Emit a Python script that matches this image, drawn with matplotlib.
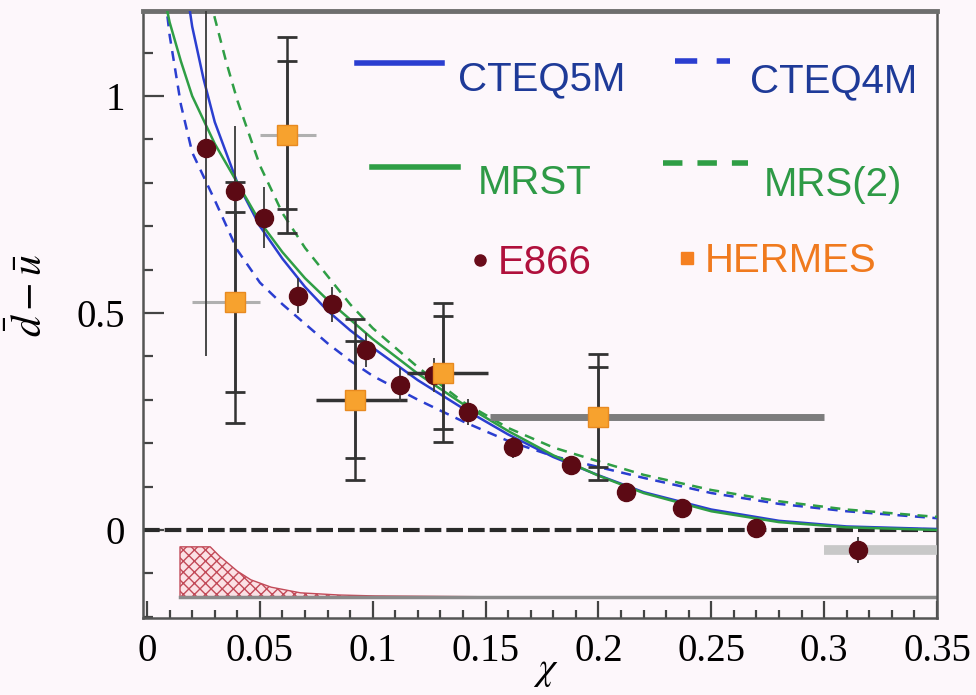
import matplotlib
matplotlib.use('Agg')
import matplotlib.pyplot as plt
from matplotlib.lines import Line2D
from matplotlib import font_manager
from matplotlib.ticker import MultipleLocator, FixedLocator

# E866 points, d-bar minus u-bar
e866_x = [0.026, 0.039, 0.052, 0.067, 0.082, 0.097, 0.112, 0.127, 0.142, 0.162, 0.188, 0.212, 0.237, 0.270, 0.315]
e866_y = [0.88, 0.78, 0.72, 0.54, 0.52, 0.415, 0.334, 0.357, 0.272, 0.19, 0.15, 0.087, 0.05, 0.005, -0.046]
e866_err = [0.48, 0.15, 0.07, 0.04, 0.04, 0.04, 0.04, 0.04, 0.03, 0.025, 0.02, 0.02, 0.02, 0.02, 0.03]

# HERMES points: stat / total errors and x bins
herm_x = [0.039, 0.062, 0.092, 0.131, 0.200]
herm_y = [0.525, 0.91, 0.30, 0.362, 0.26]
herm_stat = [0.207, 0.17, 0.135, 0.13, 0.115]
herm_tot = [0.278, 0.225, 0.185, 0.16, 0.145]
herm_xlo = [0.020, 0.050, 0.075, 0.115, 0.152]
herm_xhi = [0.050, 0.075, 0.115, 0.151, 0.300]

# parametrisations
cteq5_x = [0.018, 0.02, 0.025, 0.03, 0.04, 0.05, 0.06, 0.07, 0.08, 0.09, 0.10, 0.12, 0.14, 0.16, 0.18, 0.20, 0.22, 0.25, 0.28, 0.31, 0.35]
cteq5_y = [1.23, 1.16, 1.04, 0.94, 0.80, 0.70, 0.625, 0.56, 0.505, 0.46, 0.42, 0.345, 0.28, 0.22, 0.168, 0.126, 0.087, 0.047, 0.021, 0.008, 0.002]

cteq4_x = [0.008, 0.01, 0.015, 0.02, 0.03, 0.04, 0.05, 0.06, 0.07, 0.08, 0.09, 0.10, 0.12, 0.14, 0.16, 0.18, 0.20, 0.22, 0.25, 0.28, 0.31, 0.35]
cteq4_y = [1.23, 1.14, 0.98, 0.87, 0.76, 0.645, 0.57, 0.52, 0.475, 0.43, 0.39, 0.355, 0.30, 0.25, 0.205, 0.17, 0.145, 0.12, 0.085, 0.06, 0.043, 0.027]

mrst_x = [0.008, 0.01, 0.015, 0.02, 0.03, 0.04, 0.05, 0.06, 0.07, 0.08, 0.09, 0.10, 0.12, 0.14, 0.16, 0.18, 0.20, 0.22, 0.25, 0.28, 0.31, 0.35]
mrst_y = [1.22, 1.17, 1.08, 1.00, 0.89, 0.80, 0.71, 0.64, 0.58, 0.53, 0.485, 0.44, 0.36, 0.29, 0.228, 0.172, 0.125, 0.085, 0.043, 0.018, 0.006, 0.0]

mrs2_x = [0.028, 0.03, 0.035, 0.04, 0.05, 0.06, 0.07, 0.08, 0.09, 0.10, 0.12, 0.14, 0.16, 0.18, 0.20, 0.22, 0.25, 0.28, 0.31, 0.35]
mrs2_y = [1.23, 1.18, 1.08, 0.99, 0.84, 0.73, 0.65, 0.585, 0.52, 0.465, 0.375, 0.295, 0.235, 0.19, 0.158, 0.127, 0.092, 0.066, 0.047, 0.03]

# systematic error band at the bottom
sys_x = [0.0146, 0.028, 0.032, 0.04, 0.046, 0.055, 0.068, 0.085, 0.10, 0.125, 0.15]
sys_top = [-0.039, -0.039, -0.06, -0.095, -0.115, -0.132, -0.145, -0.150, -0.152, -0.153, -0.154]
sys_base = -0.155

W, H = 976, 695
bg = '#fdf7fb'
fig = plt.figure(figsize=(W / 100, H / 100), dpi=100, facecolor=bg)
ax = fig.add_axes([143 / W, 1 - 618 / H, (937 - 143) / W, (618 - 11) / H])
ax.set_facecolor(bg)
ax.set_xlim(-0.0018, 0.35)
ax.set_ylim(-0.203, 1.196)

blue = '#2b3ed0'
green = '#2f9e45'
ax.plot(cteq5_x, cteq5_y, color=blue, lw=1.8, zorder=3)
ax.plot(cteq4_x, cteq4_y, color=blue, lw=1.8, ls=(0, (4, 3)), zorder=3)
ax.plot(mrst_x, mrst_y, color=green, lw=1.8, zorder=3)
ax.plot(mrs2_x, mrs2_y, color=green, lw=1.8, ls=(0, (4, 3)), zorder=3)

# zero line and systematic band
ax.axhline(0, color='#2a2a2a', lw=3, ls=(0, (4, 1.2)), zorder=2)
ax.fill_between(sys_x, sys_top, sys_base, facecolor='#fbe1e5', edgecolor='#c24a58',
                hatch='xxx', lw=1.0, zorder=2)
ax.plot([sys_x[0], 0.35], [sys_base, sys_base], color='#8a8a8a', lw=2.5, zorder=2)

# HERMES x bins
bin_col = ['#b0b0b0', '#b0b0b0', '#333333', '#333333', '#7d7d7d']
bin_lw = [2.2, 2.2, 2.5, 2.5, 5]
for i in range(len(herm_x)):
    ax.plot([herm_xlo[i], herm_xhi[i]], [herm_y[i], herm_y[i]],
            color=bin_col[i], lw=bin_lw[i], zorder=4, solid_capstyle='butt')
ax.errorbar(herm_x, herm_y, yerr=herm_tot, fmt='none', ecolor='#333333',
            elinewidth=1.8, capsize=7, capthick=2, zorder=4)
ax.errorbar(herm_x, herm_y, yerr=herm_stat, fmt='none', ecolor='#333333',
            elinewidth=1.8, capsize=7, capthick=2, zorder=4)

# last E866 point bin
ax.plot([0.3, 0.35], [e866_y[-1], e866_y[-1]], color='#c8c8c8', lw=7,
        solid_capstyle='butt', zorder=4)

ax.errorbar(e866_x, e866_y, yerr=e866_err, fmt='o', color='#5c0a14', ms=13,
            ecolor='#3a3a3a', elinewidth=1.3, capsize=0, zorder=5)
ax.plot(herm_x, herm_y, 's', color='#f7a22e', mec='#e88a20', ms=14, zorder=6)

# axes styling
for s in ['left', 'bottom', 'right']:
    ax.spines[s].set_color('#555555')
    ax.spines[s].set_linewidth(1.8)
ax.spines['top'].set_color('#6e6e6e')
ax.spines['top'].set_linewidth(3.5)

ax.xaxis.set_major_locator(FixedLocator([0, 0.05, 0.1, 0.15, 0.2, 0.25, 0.3, 0.35]))
ax.xaxis.set_minor_locator(MultipleLocator(0.01))
ax.yaxis.set_major_locator(FixedLocator([0, 0.5, 1]))
ax.yaxis.set_minor_locator(MultipleLocator(0.1))
ax.set_xticklabels(['0', '0.05', '0.1', '0.15', '0.2', '0.25', '0.3', '0.35'])
ax.set_yticklabels(['0', '0.5', '1'])
ax.tick_params(which='both', direction='in', color='#444444', width=1.6,
               top=False, right=False)
ax.tick_params(axis='x', which='major', length=12, pad=11)
ax.tick_params(axis='x', which='minor', length=6)
ax.tick_params(axis='y', which='major', length=15, pad=13)
ax.tick_params(axis='y', which='minor', length=7)
for lab in ax.get_xticklabels() + ax.get_yticklabels():
    lab.set_fontfamily('Liberation Serif')
    lab.set_fontsize(28)
    lab.set_color('#000000')

plt.rcParams['mathtext.fontset'] = 'stix'
fig.text(546 / W, 1 - 670 / H, r'$\chi$', fontsize=28, ha='center', va='center')
fig.text(30 / W, 1 - 295 / H, r'$\bar{d}-\bar{u}$', fontsize=30, rotation=90,
         ha='center', va='center')

# legend drawn by hand
avail = {f.name for f in font_manager.fontManager.ttflist}
if 'Liberation Sans Narrow' in avail:
    lf, ls_ = 'Liberation Sans Narrow', 33
else:
    lf, ls_ = 'Liberation Sans', 29


def fx(px):
    return px / W


def fy(py):
    return 1 - py / H


fig.add_artist(Line2D([fx(357), fx(442)], [fy(63), fy(63)], color=blue, lw=4))
fig.add_artist(Line2D([fx(675), fx(730)], [fy(61), fy(61)], color=blue, lw=4, ls=(0, (4, 3.5))))
fig.add_artist(Line2D([fx(372), fx(458)], [fy(167), fy(167)], color=green, lw=4))
fig.add_artist(Line2D([fx(663), fx(748)], [fy(163), fy(163)], color=green, lw=4, ls=(0, (3.5, 2.7))))
fig.add_artist(Line2D([fx(480)], [fy(260)], marker='o', color='#6a0c1a', ms=8, ls='none'))
fig.add_artist(Line2D([fx(687)], [fy(258)], marker='s', color='#f58020', ms=9, ls='none'))

tc_cteq = '#1e3a98'
tc_mrs = '#2e9a46'
fig.text(fx(458), fy(90), 'CTEQ5M', color=tc_cteq, family=lf, fontsize=ls_, va='baseline')
fig.text(fx(750), fy(92), 'CTEQ4M', color=tc_cteq, family=lf, fontsize=ls_, va='baseline')
fig.text(fx(478), fy(194), 'MRST', color=tc_mrs, family=lf, fontsize=ls_, va='baseline')
fig.text(fx(764), fy(196), 'MRS(2)', color=tc_mrs, family=lf, fontsize=ls_, va='baseline')
fig.text(fx(498), fy(274), 'E866', color='#b0103c', family=lf, fontsize=ls_, va='baseline')
fig.text(fx(705), fy(272), 'HERMES', color='#f07a1e', family=lf, fontsize=ls_, va='baseline')

fig.savefig('out.png', dpi=100, facecolor=bg)
